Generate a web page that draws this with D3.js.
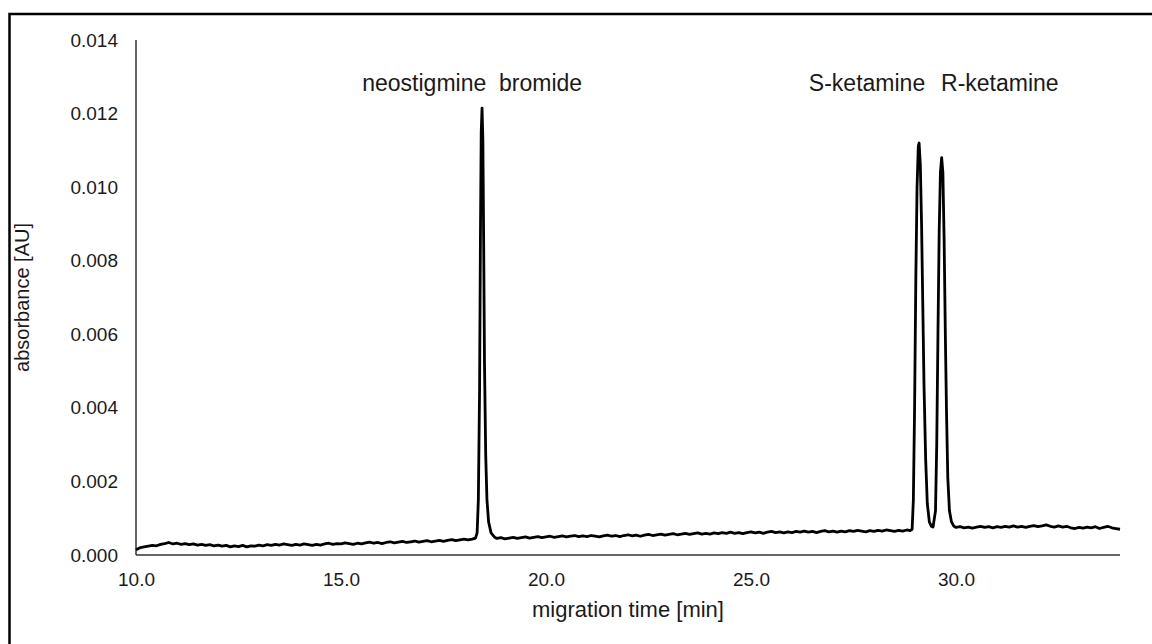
<!DOCTYPE html>
<html>
<head>
<meta charset="utf-8">
<script src="https://cdn.jsdelivr.net/npm/d3@7"></script>
<style>
  body { margin: 0; background: #fff; }
  text { font-family: "Liberation Sans", Arial, sans-serif; fill: #1a1a1a; }
</style>
</head>
<body>
<div id="chart"></div>
<script>
// tick values on both axes
const xTicks = [10, 15, 20, 25, 30];
const yTicks = [0, 0.002, 0.004, 0.006, 0.008, 0.010, 0.012, 0.014];

// peak labels: [text, x centre in min]
const peakLabels = [
  ["neostigmine  bromide", 18.2],
  ["S-ketamine", 27.83],
  ["R-ketamine", 31.07]
];

// electropherogram: [migration time min, absorbance AU]
const trace = [
  [10.0,0.00014],[10.1,0.00020],[10.2,0.00022],[10.3,0.00024],[10.4,0.00026],[10.5,0.00025],
  [10.6,0.00029],[10.7,0.00031],[10.8,0.00034],[10.9,0.00030],[11.0,0.00032],[11.1,0.00029],
  [11.2,0.00031],[11.3,0.00028],[11.4,0.00030],[11.5,0.00027],[11.6,0.00029],[11.7,0.00026],
  [11.8,0.00028],[11.9,0.00025],[12.0,0.00027],[12.1,0.00024],[12.2,0.00026],[12.3,0.00022],
  [12.4,0.00025],[12.5,0.00023],[12.6,0.00026],[12.7,0.00022],[12.8,0.00025],[12.9,0.00024],
  [13.0,0.00027],[13.1,0.00025],[13.2,0.00028],[13.3,0.00026],[13.4,0.00029],[13.5,0.00027],
  [13.6,0.00030],[13.7,0.00028],[13.8,0.00026],[13.9,0.00029],[14.0,0.00027],[14.1,0.00030],
  [14.2,0.00028],[14.3,0.00026],[14.4,0.00029],[14.5,0.00027],[14.6,0.00030],[14.7,0.00032],
  [14.8,0.00029],[14.9,0.00031],[15.0,0.00030],[15.1,0.00033],[15.2,0.00031],[15.3,0.00029],
  [15.4,0.00032],[15.5,0.00030],[15.6,0.00033],[15.7,0.00035],[15.8,0.00032],[15.9,0.00034],
  [16.0,0.00031],[16.1,0.00034],[16.2,0.00036],[16.3,0.00033],[16.4,0.00035],[16.5,0.00037],
  [16.6,0.00034],[16.7,0.00036],[16.8,0.00038],[16.9,0.00035],[17.0,0.00037],[17.1,0.00039],
  [17.2,0.00036],[17.3,0.00038],[17.4,0.00040],[17.5,0.00037],[17.6,0.00040],[17.7,0.00042],
  [17.8,0.00039],[17.9,0.00041],[18.0,0.00043],[18.1,0.00041],[18.2,0.00043],[18.28,0.00046],
  // neostigmine bromide
  [18.32,0.0006],[18.35,0.0015],[18.38,0.0045],[18.40,0.0085],[18.42,0.0115],[18.44,0.01215],
  [18.46,0.0113],[18.48,0.0085],[18.50,0.0052],[18.53,0.0027],[18.56,0.0015],[18.60,0.0009],
  [18.66,0.0006],[18.75,0.00048],
  [18.8,0.00045],[18.9,0.00047],[19.0,0.00044],[19.1,0.00046],[19.2,0.00048],[19.3,0.00045],
  [19.4,0.00047],[19.5,0.00049],[19.6,0.00046],[19.7,0.00048],[19.8,0.00050],[19.9,0.00047],
  [20.0,0.00049],[20.1,0.00051],[20.2,0.00048],[20.3,0.00050],[20.4,0.00052],[20.5,0.00049],
  [20.6,0.00051],[20.7,0.00053],[20.8,0.00050],[20.9,0.00052],[21.0,0.00050],[21.1,0.00053],
  [21.2,0.00051],[21.3,0.00049],[21.4,0.00052],[21.5,0.00054],[21.6,0.00051],[21.7,0.00053],
  [21.8,0.00050],[21.9,0.00053],[22.0,0.00055],[22.1,0.00052],[22.2,0.00054],[22.3,0.00051],
  [22.4,0.00054],[22.5,0.00056],[22.6,0.00053],[22.7,0.00055],[22.8,0.00057],[22.9,0.00054],
  [23.0,0.00056],[23.1,0.00058],[23.2,0.00055],[23.3,0.00057],[23.4,0.00059],[23.5,0.00056],
  [23.6,0.00058],[23.7,0.00060],[23.8,0.00057],[23.9,0.00059],[24.0,0.00057],[24.1,0.00060],
  [24.2,0.00058],[24.3,0.00061],[24.4,0.00059],[24.5,0.00062],[24.6,0.00059],[24.7,0.00061],
  [24.8,0.00058],[24.9,0.00061],[25.0,0.00063],[25.1,0.00060],[25.2,0.00062],[25.3,0.00059],
  [25.4,0.00062],[25.5,0.00064],[25.6,0.00061],[25.7,0.00063],[25.8,0.00060],[25.9,0.00063],
  [26.0,0.00061],[26.1,0.00064],[26.2,0.00062],[26.3,0.00065],[26.4,0.00062],[26.5,0.00064],
  [26.6,0.00061],[26.7,0.00064],[26.8,0.00066],[26.9,0.00063],[27.0,0.00065],[27.1,0.00062],
  [27.2,0.00065],[27.3,0.00063],[27.4,0.00066],[27.5,0.00064],[27.6,0.00067],[27.7,0.00065],
  [27.8,0.00063],[27.9,0.00066],[28.0,0.00064],[28.1,0.00067],[28.2,0.00065],[28.3,0.00068],
  [28.4,0.00066],[28.5,0.00064],[28.6,0.00067],[28.7,0.00065],[28.8,0.00068],[28.88,0.00066],
  // S-ketamine
  [28.93,0.0007],[28.96,0.0015],[28.99,0.0040],[29.02,0.0075],[29.05,0.0100],[29.08,0.0111],
  [29.10,0.0112],[29.13,0.0106],[29.16,0.0090],[29.19,0.0068],[29.22,0.0046],[29.26,0.0026],
  [29.30,0.0014],[29.35,0.0009],[29.40,0.00078],[29.44,0.00076],
  // R-ketamine
  [29.50,0.0012],[29.53,0.0030],[29.56,0.0060],[29.59,0.0088],[29.62,0.0104],[29.65,0.0108],
  [29.68,0.0104],[29.71,0.0086],[29.74,0.0060],[29.77,0.0038],[29.80,0.0021],[29.84,0.0012],
  [29.89,0.0009],[29.95,0.00078],
  [30.0,0.00075],[30.1,0.00077],[30.2,0.00074],[30.3,0.00076],[30.4,0.00073],[30.5,0.00076],
  [30.6,0.00078],[30.7,0.00075],[30.8,0.00077],[30.9,0.00074],[31.0,0.00077],[31.1,0.00075],
  [31.2,0.00078],[31.3,0.00076],[31.4,0.00079],[31.5,0.00076],[31.6,0.00078],[31.7,0.00075],
  [31.8,0.00078],[31.9,0.00080],[32.0,0.00077],[32.1,0.00079],[32.2,0.00082],[32.3,0.00078],
  [32.4,0.00076],[32.5,0.00079],[32.6,0.00076],[32.7,0.00078],[32.8,0.00074],[32.9,0.00072],
  [33.0,0.00075],[33.1,0.00073],[33.2,0.00076],[33.3,0.00074],[33.4,0.00077],[33.5,0.00072],
  [33.6,0.00075],[33.7,0.00078],[33.8,0.00074],[33.9,0.00072],[34.0,0.00070]
];

const W = 1152, H = 644;
const margin = { top: 40, right: 32, bottom: 89, left: 136 },
  width = W - margin.left - margin.right,
  height = H - margin.top - margin.bottom;

const svg = d3.select("#chart").append("svg")
  .attr("width", W)
  .attr("height", H);

// outer frame
svg.append("rect")
  .attr("x", 9.5).attr("y", 14)
  .attr("width", 1160).attr("height", 660)
  .attr("fill", "none")
  .attr("stroke", "#000")
  .attr("stroke-width", 2.5);

const g = svg.append("g")
  .attr("transform", `translate(${margin.left},${margin.top})`);

const x = d3.scaleLinear().domain([10, 34]).range([0, width]);
const y = d3.scaleLinear().domain([0, 0.014]).range([height, 0]);

// y axis
const yAxis = g.append("g")
  .call(d3.axisLeft(y).tickValues(yTicks).tickFormat(d3.format(".3f")).tickSize(0).tickPadding(18));
yAxis.select(".domain").remove();
yAxis.selectAll("text")
  .style("font-size", "19px")
  .attr("font-family", null);

// x axis
const xAxis = g.append("g")
  .attr("transform", `translate(0,${height})`)
  .call(d3.axisBottom(x).tickValues(xTicks).tickFormat(d3.format(".1f")).tickSize(0).tickPadding(18));
xAxis.select(".domain").remove();
xAxis.selectAll("text")
  .style("font-size", "19px")
  .attr("font-family", null);

// axis lines
g.append("line")
  .attr("x1", 0).attr("x2", 0)
  .attr("y1", 0).attr("y2", height)
  .attr("stroke", "#333").attr("stroke-width", 1.5);
g.append("line")
  .attr("x1", 0).attr("x2", width)
  .attr("y1", height).attr("y2", height)
  .attr("stroke", "#333").attr("stroke-width", 1.5);

// trace
const line = d3.line()
  .x(d => x(d[0]))
  .y(d => y(d[1]));

g.append("path")
  .datum(trace)
  .attr("d", line)
  .attr("fill", "none")
  .attr("stroke", "#000")
  .attr("stroke-width", 2.8)
  .attr("stroke-linejoin", "round");

// peak labels
g.selectAll(".peak")
  .data(peakLabels)
  .join("text")
    .attr("class", "peak")
    .attr("x", d => x(d[1]))
    .attr("y", 51)
    .attr("text-anchor", "middle")
    .style("font-size", "23px")
    .style("white-space", "pre")
    .text(d => d[0]);

// axis titles
g.append("text")
  .attr("x", 492)
  .attr("y", height + 62)
  .attr("text-anchor", "middle")
  .style("font-size", "22px")
  .text("migration time [min]");

g.append("text")
  .attr("transform", `translate(${-107},${height / 2})rotate(-90)`)
  .attr("text-anchor", "middle")
  .style("font-size", "20px")
  .text("absorbance [AU]");
</script>
</body>
</html>
